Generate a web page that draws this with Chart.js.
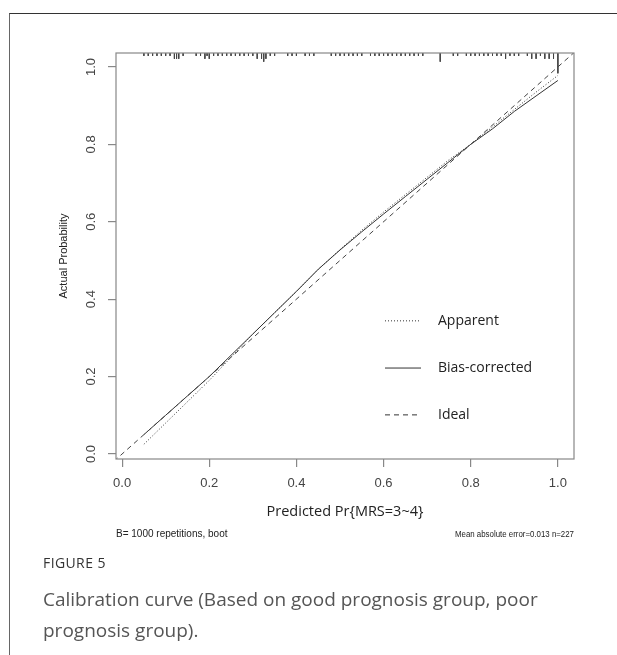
<!DOCTYPE html>
<html>
<head>
<meta charset="utf-8">
<script src="https://cdn.jsdelivr.net/npm/chart.js@4.4.0/dist/chart.umd.min.js"></script>
<style>
  html, body { margin: 0; padding: 0; background: #fff; }
  #wrap { position: relative; width: 617px; height: 655px; overflow: hidden; }
  #frame { position: absolute; left: 9px; top: 13px; width: 700px; height: 700px;
           border-top: 1px solid #333; border-left: 1px solid #666; }
  #chart { position: absolute; left: 0; top: 0; }
  #fig { position: absolute; left: 43px; top: 553px; font: 14px "Open Sans"; color: #333; letter-spacing: 0.4px; }
  #cap { position: absolute; left: 43px; top: 584px; width: 545px; font: 19px/31px "Open Sans"; color: #555; }
</style>
</head>
<body>
<div id="wrap">
  <div id="frame"></div>
  <canvas id="chart" width="617" height="655"></canvas>
  <div id="fig">FIGURE 5</div>
  <div id="cap">Calibration curve (Based on good prognosis group, poor prognosis group).</div>
</div>
<script>
// tick labels
const tickValues = [0, 0.2, 0.4, 0.6, 0.8, 1.0];

// calibration curves (predicted -> actual)
const predicted = [0.05, 0.1, 0.15, 0.2, 0.25, 0.3, 0.35, 0.4, 0.45, 0.5,
                   0.55, 0.6, 0.65, 0.7, 0.75, 0.8, 0.85, 0.9, 0.95, 1.0];
const apparent = [0.025, 0.08, 0.135, 0.19, 0.25, 0.31, 0.365, 0.42, 0.477, 0.528,
                  0.578, 0.625, 0.67, 0.715, 0.76, 0.8, 0.845, 0.89, 0.935, 0.978];
const biasCorrected = [0.05, 0.1, 0.15, 0.2, 0.255, 0.31, 0.365, 0.42, 0.477, 0.527,
                       0.574, 0.62, 0.665, 0.71, 0.755, 0.8, 0.84, 0.885, 0.925, 0.965];
const ideal = [-0.05, 1.05];

// rug of predicted probabilities along the top (position, count)
const rugX = [0.05, 0.06, 0.07, 0.08, 0.09, 0.10, 0.11, 0.12, 0.125, 0.13, 0.14,
              0.17, 0.18, 0.19, 0.195, 0.2, 0.21, 0.22, 0.23, 0.24, 0.25, 0.26, 0.27,
              0.28, 0.29, 0.3, 0.31, 0.32, 0.325, 0.33, 0.34, 0.35, 0.38, 0.39, 0.4,
              0.42, 0.43, 0.44, 0.48, 0.49, 0.5, 0.51, 0.52, 0.53, 0.54, 0.55,
              0.57, 0.58, 0.59, 0.6, 0.61, 0.62, 0.63, 0.64, 0.65, 0.66, 0.67, 0.68, 0.69,
              0.73, 0.76, 0.77, 0.79, 0.8, 0.81, 0.82, 0.83, 0.84, 0.85, 0.86, 0.87, 0.88,
              0.89, 0.9, 0.91, 0.93, 0.94, 0.95, 0.96, 0.97, 0.98, 0.99, 1.0];
const rugN = [1, 1, 1, 1, 1, 1, 1, 2, 2, 2, 1,
              1, 1, 2, 1, 2, 1, 1, 1, 1, 1, 1, 1,
              1, 1, 1, 2, 2, 3, 2, 1, 1, 1, 1, 1,
              1, 1, 1, 1, 1, 1, 1, 1, 1, 1, 1,
              1, 1, 1, 1, 1, 1, 1, 1, 1, 1, 1, 1, 1,
              3, 1, 1, 1, 1, 1, 1, 1, 1, 1, 1, 1, 2,
              1, 1, 1, 1, 2, 2, 1, 2, 2, 2, 7];

const xMin = -0.014, xMax = 1.037, yMin = -0.013, yMax = 1.036;
const rugUnit = 0.0075;

const rugData = [];
rugX.forEach((x, i) => {
  rugData.push({ x, y: yMax }, { x, y: yMax - rugN[i] * rugUnit }, { x, y: null });
});

const ink = '#333';
const axisGray = '#888';
const textGray = '#444';

const legendItems = [
  { label: 'Apparent', dash: [1, 2], y: 0.344 },
  { label: 'Bias-corrected', dash: [], y: 0.222 },
  { label: 'Ideal', dash: [5, 4], y: 0.101 }
];

const decorations = {
  id: 'decorations',
  afterDraw(chart) {
    const { ctx, chartArea: a, scales: { x, y } } = chart;
    ctx.save();
    // box
    ctx.strokeStyle = axisGray;
    ctx.lineWidth = 1.2;
    ctx.strokeRect(a.left, a.top, a.right - a.left, a.bottom - a.top);

    // tick labels
    ctx.fillStyle = textGray;
    ctx.font = '13px "Liberation Sans"';
    ctx.textAlign = 'center';
    ctx.textBaseline = 'middle';
    tickValues.forEach(v => {
      ctx.fillText(v.toFixed(1), x.getPixelForValue(v), 483);
      ctx.save();
      ctx.translate(91, y.getPixelForValue(v));
      ctx.rotate(-Math.PI / 2);
      ctx.fillText(v.toFixed(1), 0, 0);
      ctx.restore();
    });

    // axis titles
    ctx.fillStyle = '#222';
    ctx.font = '11px "Liberation Sans"';
    ctx.save();
    ctx.translate(64, (a.top + a.bottom) / 2);
    ctx.rotate(-Math.PI / 2);
    ctx.fillText('Actual Probability', 0, 0);
    ctx.restore();

    ctx.font = '14.5px "Open Sans"';
    ctx.fillText('Predicted Pr{MRS=3~4}', (a.left + a.right) / 2, 512);

    ctx.font = '10px "Liberation Sans"';
    ctx.textAlign = 'left';
    ctx.fillText('B= 1000 repetitions, boot', a.left, 534);
    ctx.font = '9.5px "Liberation Sans"';
    ctx.textAlign = 'right';
    ctx.fillText('Mean absolute error=0.013 n=227', a.right, 534, 119);

    // legend
    ctx.textAlign = 'left';
    ctx.font = '14px "Open Sans"';
    ctx.strokeStyle = ink;
    ctx.lineWidth = 1;
    legendItems.forEach(it => {
      const py = y.getPixelForValue(it.y);
      ctx.setLineDash(it.dash);
      ctx.beginPath();
      ctx.moveTo(385, py);
      ctx.lineTo(421, py);
      ctx.stroke();
      ctx.fillStyle = '#222';
      ctx.fillText(it.label, 438, py);
    });
    ctx.restore();
  }
};

const toPoints = (xs, ys) => xs.map((v, i) => ({ x: v, y: ys[i] }));

new Chart(document.getElementById('chart').getContext('2d'), {
  type: 'line',
  data: {
    datasets: [
      { label: 'Ideal', data: toPoints(ideal, ideal), borderColor: '#444', borderWidth: 1,
        borderDash: [5, 4], pointRadius: 0 },
      { label: 'Apparent', data: toPoints(predicted, apparent), borderColor: ink, borderWidth: 1,
        borderDash: [1, 2], pointRadius: 0 },
      { label: 'Bias-corrected', data: toPoints(predicted, biasCorrected), borderColor: ink,
        borderWidth: 1, pointRadius: 0 },
      { label: 'rug', data: rugData, borderColor: '#444', borderWidth: 1, pointRadius: 0,
        spanGaps: false }
    ]
  },
  options: {
    responsive: false,
    animation: false,
    layout: { padding: { left: 0, top: 53, right: 43, bottom: 0 } },
    plugins: { legend: { display: false }, tooltip: { enabled: false } },
    scales: {
      x: {
        type: 'linear', min: xMin, max: xMax,
        afterBuildTicks: s => { s.ticks = tickValues.map(v => ({ value: v })); },
        afterFit: s => { s.height = 655 - 459; },
        ticks: { display: false },
        grid: { drawOnChartArea: false, drawTicks: true, tickLength: 8, color: axisGray, lineWidth: 1.2 },
        border: { display: false }
      },
      y: {
        type: 'linear', min: yMin, max: yMax,
        afterBuildTicks: s => { s.ticks = tickValues.map(v => ({ value: v })); },
        afterFit: s => { s.width = 116; },
        ticks: { display: false },
        grid: { drawOnChartArea: false, drawTicks: true, tickLength: 8, color: axisGray, lineWidth: 1.2 },
        border: { display: false }
      }
    }
  },
  plugins: [decorations]
});
</script>
</body>
</html>
